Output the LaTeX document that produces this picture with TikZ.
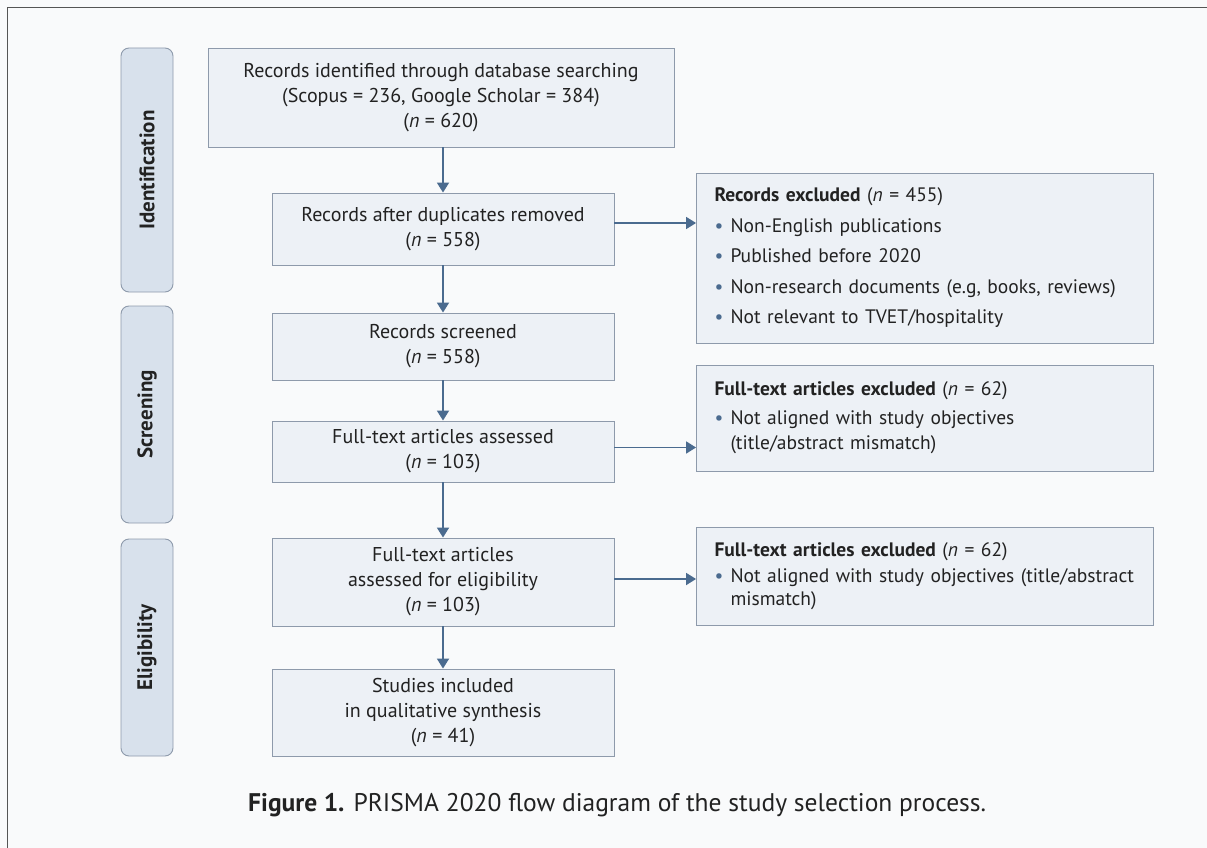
\documentclass[tikz,border=0pt]{standalone}
\usepackage{fontspec}
\setmainfont{PT Sans}
\usetikzlibrary{arrows.meta}
\definecolor{boxfill}{HTML}{EDF1F6}
\definecolor{boxline}{HTML}{8E9AAB}
\definecolor{phasefill}{HTML}{D8E1EC}
\definecolor{arrowc}{HTML}{4B6B8F}
\definecolor{txt}{HTML}{222222}
\definecolor{bg}{HTML}{F9FAFB}
\definecolor{framec}{HTML}{555555}
\newcommand{\bul}{\makebox[16pt][l]{\color{arrowc}\textbullet}}
\newcommand{\ind}{\hspace*{16pt}}
\begin{document}
\begin{tikzpicture}[x=1pt,y=-1pt,
  every node/.style={text=txt},
  mainbox/.style={draw=boxline, fill=boxfill, line width=0.9pt, align=center,
    font=\fontsize{20}{25}\selectfont, inner sep=0pt},
  exclbox/.style={draw=boxline, fill=boxfill, line width=0.9pt, align=left,
    font=\fontsize{19.5}{30.5}\selectfont, inner xsep=18pt, inner ysep=0pt,
    text width=421pt, minimum width=457pt},
  phase/.style={draw=boxline, fill=phasefill, rounded corners=8pt, line width=0.9pt,
    minimum width=52pt, inner sep=0pt},
  phasetext/.style={rotate=90, font=\fontsize{21}{24}\selectfont\bfseries},
  flow/.style={draw=arrowc, line width=1.8pt, -{Triangle[length=10pt,width=12pt]}}]
\useasboundingbox (0,0) rectangle (1207,848);
\fill[bg] (0,0) rectangle (1207,848);
\draw[framec, line width=1pt] (7,848) -- (7,8) -- (1207,8);

% phase labels
\node[phase, minimum height=244pt] (p1) at (147,170) {};
\node[phasetext] at (p1.center) {Identification};
\node[phase, minimum height=217pt] (p2) at (147,414.5) {};
\node[phasetext] at (p2.center) {Screening};
\node[phase, minimum height=217pt] (p3) at (147,647.5) {};
\node[phasetext] at (p3.center) {Eligibility};

% main flow
\node[mainbox, minimum width=466pt, minimum height=99pt] (b1) at (441,97.5)
  {Records identified through database searching\\(Scopus = 236, Google Scholar = 384)\\(\textit{n} = 620)};
\node[mainbox, minimum width=342pt, minimum height=72pt] (b2) at (443,229)
  {Records after duplicates removed\\(\textit{n} = 558)};
\node[mainbox, minimum width=342pt, minimum height=67pt] (b3) at (443,346.5)
  {Records screened\\(\textit{n} = 558)};
\node[mainbox, minimum width=342pt, minimum height=61pt] (b4) at (443,451.5)
  {Full-text articles assessed\\(\textit{n} = 103)};
\node[mainbox, minimum width=342pt, minimum height=88pt] (b5) at (443,582)
  {Full-text articles\\assessed for eligibility\\(\textit{n} = 103)};
\node[mainbox, minimum width=342pt, minimum height=87pt] (b6) at (443,712.5)
  {Studies included\\in qualitative synthesis\\(\textit{n} = 41)};

% exclusion boxes
\node[exclbox, minimum height=170pt] (e1) at (925,258)
  {\textbf{Records excluded} (\textit{n} = 455)\\
   \bul Non-English publications\\
   \bul Published before 2020\\
   \bul Non-research documents (e.g, books, reviews)\\
   \bul Not relevant to TVET/hospitality};
\node[exclbox, minimum height=106pt] (e2) at (925,418)
  {\textbf{Full-text articles excluded} (\textit{n} = 62)\\[-2pt]
   \bul Not aligned with study objectives\\[-5pt]
   \ind (title/abstract mismatch)};
\node[exclbox, minimum height=98pt] (e3) at (925,576)
  {\textbf{Full-text articles excluded} (\textit{n} = 62)\\[-4pt]
   \bul Not aligned with study objectives (title/abstract\\[-8pt]
   \ind mismatch)};

% connectors
\draw[flow] (b1.south -| b2.north) -- (b2.north);
\draw[flow] (b2) -- (b3);
\draw[flow] (b3) -- (b4);
\draw[flow] (b4) -- (b5);
\draw[flow] (b5) -- (b6);
\draw[flow] ([yshift=6pt]b2.east) -- ([yshift=6pt]b2.east -| e1.west);
\draw[flow] ([yshift=4pt]b4.east) -- ([yshift=4pt]b4.east -| e2.west);
\draw[flow] ([yshift=3pt]b5.east) -- ([yshift=3pt]b5.east -| e3.west);

% caption
\node[anchor=west, font=\fontsize{25.5}{30}\selectfont, inner sep=0pt] (cap) at (248,805)
  {\textbf{Figure 1.} PRISMA 2020 flow diagram of the study selection process.};
\end{tikzpicture}
\end{document}
